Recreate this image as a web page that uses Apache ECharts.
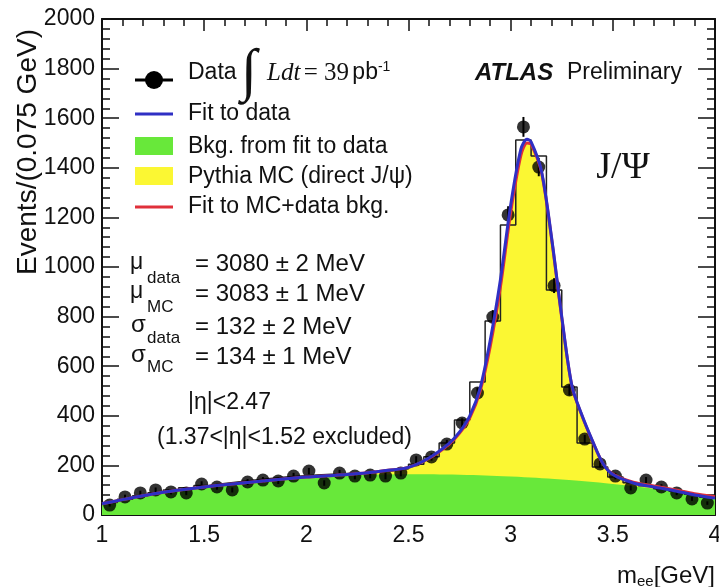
<!DOCTYPE html>
<html><head><meta charset="utf-8">
<script src="https://cdn.jsdelivr.net/npm/echarts@6/dist/echarts.min.js"></script>
<style>html,body{margin:0;padding:0;background:#fff}#c{width:719px;height:587px}</style>
</head><body><div id="c"></div>
<script>
// ---- data ----
const binStart = 1.0;
const binWidth = 0.075;
const dataCounts = [40,73,89,101,93,89,125,113,101,133,141,137,157,177,129,169,157,161,157,169,222,234,286,371,492,798,1210,1565,1403,925,504,306,206,157,109,141,113,89,65,48];
const dataErr = [6,9,9,10,10,9,11,11,10,12,12,12,13,13,11,13,13,13,13,13,15,15,17,19,22,28,35,40,37,30,22,17,14,13,10,12,11,9,8,7];
const mcHist = [50,64,78,90,101,110,119,127,134,141,147,153,157,161,164,167,170,173,178,186,205,235,290,383,536,782,1169,1512,1448,907,516,290,194,153,130,118,106,96,84,72];
const fitX = [1.0,1.1,1.2,1.3,1.4,1.5,1.6,1.7,1.8,1.9,2.0,2.1,2.2,2.3,2.4,2.5,2.6,2.7,2.75,2.8,2.85,2.9,2.95,3.0,3.05,3.08,3.1,3.15,3.2,3.25,3.3,3.35,3.4,3.45,3.5,3.6,3.7,3.8,3.9,4.0];
const fitData = [45,62,78,92,103,113,122,130,138,146,153,158,163,170,180,192,230,290,335,400,510,705,950,1250,1475,1515,1505,1390,1120,800,520,400,300,210,163,129,113,98,81,68];
const fitMC = [45,62,78,92,103,113,122,130,138,146,153,158,163,170,180,192,228,286,330,392,498,680,920,1220,1450,1500,1495,1385,1115,795,518,398,298,210,165,132,117,102,86,74];
const bkgX = [1.0,1.25,1.5,1.75,2.0,2.25,2.5,2.75,3.0,3.25,3.5,3.75,4.0];
const bkgY = [44,80,110,133,150,160,164,162,155,143,125,100,66];
const xTickLabels = ['1','1.5','2','2.5','3','3.5','4'];
const yTickLabels = ['0','200','400','600','800','1000','1200','1400','1600','1800','2000'];

// ---- build library inputs ----
const centers = dataCounts.map((_, i) => binStart + binWidth * (i + 0.5));
const pts = dataCounts.map((v, i) => [centers[i], v]);
const errPts = dataCounts.map((v, i) => [centers[i], v, dataErr[i]]);
const stepPts = [];
mcHist.forEach((v, i) => { stepPts.push([binStart + binWidth * i, v]); stepPts.push([binStart + binWidth * (i + 1), v]); });
const fitDataPts = fitX.map((x, i) => [x, fitData[i]]);
const fitMCPts = fitX.map((x, i) => [x, fitMC[i]]);
const bkgPts = bkgX.map((x, i) => [x, bkgY[i]]);

const F = '"Liberation Sans", Arial, Helvetica, sans-serif';
const SERIF = '"Liberation Serif", "DejaVu Serif", serif';
const chart = echarts.init(document.getElementById('c'), null, {renderer: 'canvas'});

const axisCommon = {
  axisLine: {show: true, onZero: false, lineStyle: {color: '#111', width: 2}},
  splitLine: {show: false}
};

const txt = (x, y, text, size, extra) => ({
  type: 'text', x: x, y: y,
  style: Object.assign({text: text, fill: '#111', font: size + 'px ' + F, textVerticalAlign: 'middle', textAlign: 'left'}, extra || {})
});

chart.setOption({
  backgroundColor: '#fff',
  animation: false,
  grid: {left: 102, right: 4, top: 19, bottom: 72, containLabel: false, outerBoundsMode: 'none'},
  xAxis: [
    Object.assign({}, axisCommon, {
      type: 'value', min: 1, max: 4, interval: 0.5, position: 'bottom',
      axisTick: {show: true, inside: true, length: 15, lineStyle: {color: '#111', width: 1.5}},
      minorTick: {show: true, splitNumber: 5, length: 8, lineStyle: {color: '#111', width: 1.5}},
      axisLabel: {show: true, margin: 9, color: '#111', fontSize: 23, fontFamily: F,
        formatter: v => xTickLabels[Math.round((v - 1) / 0.5)]}
    }),
    Object.assign({}, axisCommon, {
      type: 'value', min: 1, max: 4, interval: 0.5, position: 'top',
      axisTick: {show: true, inside: true, length: 12, lineStyle: {color: '#111', width: 1.5}},
      minorTick: {show: true, splitNumber: 5, length: 7, lineStyle: {color: '#111', width: 1.5}},
      axisLabel: {show: false}
    })
  ],
  yAxis: [
    Object.assign({}, axisCommon, {
      type: 'value', min: 0, max: 2000, interval: 200, position: 'left',
      axisTick: {show: true, inside: true, length: 17, lineStyle: {color: '#111', width: 1.5}},
      minorTick: {show: true, splitNumber: 5, length: 8, lineStyle: {color: '#111', width: 1.5}},
      axisLabel: {show: true, margin: 7, color: '#111', fontSize: 23, fontFamily: F,
        formatter: v => yTickLabels[Math.round(v / 200)]}
    }),
    Object.assign({}, axisCommon, {
      type: 'value', min: 0, max: 2000, interval: 200, position: 'right',
      axisTick: {show: true, inside: true, length: 17, lineStyle: {color: '#111', width: 1.5}},
      minorTick: {show: true, splitNumber: 5, length: 8, lineStyle: {color: '#111', width: 1.5}},
      axisLabel: {show: false}
    })
  ],
  series: [
    {type: 'line', name: 'Pythia MC (direct J/ψ)', data: fitMCPts, smooth: 0.3, showSymbol: false, z: 1,
      lineStyle: {width: 0}, areaStyle: {color: '#fbf733', opacity: 1}},
    {type: 'line', name: 'Bkg. from fit to data', data: bkgPts, smooth: 0.4, showSymbol: false, z: 2,
      lineStyle: {width: 0}, areaStyle: {color: '#68e83a', opacity: 1}},
    {type: 'line', name: 'MC hist', data: stepPts, showSymbol: false, z: 3,
      lineStyle: {color: '#222', width: 1.5}},
    {type: 'custom', name: 'err', data: errPts, z: 4,
      renderItem: (params, api) => {
        const a = api.coord([api.value(0), api.value(1) - api.value(2)]);
        const b = api.coord([api.value(0), api.value(1) + api.value(2)]);
        return {type: 'line', shape: {x1: a[0], y1: a[1], x2: b[0], y2: b[1]}, style: {stroke: '#000', lineWidth: 2}};
      }},
    {type: 'scatter', name: 'Data', data: pts, symbol: 'circle', symbolSize: 13, z: 4,
      itemStyle: {color: '#000'}},
    {type: 'line', name: 'Fit to MC+data bkg.', data: fitMCPts, smooth: 0.3, showSymbol: false, z: 5,
      lineStyle: {color: '#e0303a', width: 3}},
    {type: 'line', name: 'Fit to data', data: fitDataPts, smooth: 0.3, showSymbol: false, z: 6,
      lineStyle: {color: '#2f2fc4', width: 3}}
  ],
  graphic: [
    // y-axis title
    {type: 'text', x: 28, y: 152, rotation: Math.PI / 2, style: {text: 'Events/(0.075 GeV)', font: '28px ' + F, fill: '#111', textAlign: 'center', textVerticalAlign: 'middle'}},
    // legend
    {type: 'line', shape: {x1: 135, y1: 80, x2: 173, y2: 80}, style: {stroke: '#000', lineWidth: 3}},
    {type: 'circle', shape: {cx: 154, cy: 80, r: 9}, style: {fill: '#000'}},
    txt(188, 73, 'Data', 23),
    {type: 'text', x: 249, y: 74, style: {text: '∫', font: '58px ' + SERIF, fill: '#111', textAlign: 'center', textVerticalAlign: 'middle'}},
    {type: 'text', x: 267, y: 73, style: {
      text: '{i|Ldt} {n|= 39} {s|pb}{u|-1}', textVerticalAlign: 'middle', fill: '#111',
      rich: {
        i: {font: 'italic 25px ' + SERIF, fill: '#111'},
        n: {font: '25px ' + SERIF, fill: '#111'},
        s: {font: '23px ' + F, fill: '#111'},
        u: {font: '14px ' + F, fill: '#111', padding: [0, 0, 12, 0]}
      }}},
    txt(475, 73, 'ATLAS', 24, {font: 'italic bold 24px ' + F}),
    txt(567, 73, 'Preliminary', 23),
    {type: 'line', shape: {x1: 135, y1: 114, x2: 173, y2: 114}, style: {stroke: '#2f2fc4', lineWidth: 3}},
    txt(188, 114, 'Fit to data', 23),
    {type: 'rect', shape: {x: 135, y: 137, width: 38, height: 18}, style: {fill: '#68e83a'}},
    txt(188, 147, 'Bkg. from fit to data', 23),
    {type: 'rect', shape: {x: 135, y: 167, width: 38, height: 18}, style: {fill: '#fbf733'}},
    txt(188, 177, 'Pythia MC (direct J/ψ)', 23),
    {type: 'line', shape: {x1: 135, y1: 207, x2: 173, y2: 207}, style: {stroke: '#e0303a', lineWidth: 3}},
    txt(188, 207, 'Fit to MC+data bkg.', 23),
    // fit parameters
    txt(130, 263, 'μ', 23), txt(147, 278, 'data', 17), txt(195, 264, '= 3080 ± 2 MeV', 24),
    txt(130, 292, 'μ', 23), txt(147, 307, 'MC', 17), txt(195, 294, '= 3083 ± 1 MeV', 24),
    txt(131, 325, 'σ', 24), txt(147, 338, 'data', 17), txt(195, 327, '= 132 ± 2 MeV', 24),
    txt(131, 355, 'σ', 24), txt(147, 367, 'MC', 17), txt(195, 357, '= 134 ± 1 MeV', 24),
    txt(188, 403, '|η|<2.47', 23),
    txt(157, 438, '(1.37<|η|<1.52 excluded)', 23),
    {type: 'text', x: 623, y: 168, style: {text: 'J/Ψ', font: '38px ' + SERIF, fill: '#111', textAlign: 'center', textVerticalAlign: 'middle'}},
    // x-axis title
    {type: 'text', x: 715, y: 576, style: {
      text: '{m|m}{s|ee}{m|[GeV]}', textAlign: 'right', textVerticalAlign: 'middle', fill: '#111',
      rich: {m: {font: '24px ' + F, fill: '#111'}, s: {font: '15px ' + F, fill: '#111', padding: [12, 0, 0, 0]}}}}
  ]
});
</script></body></html>
